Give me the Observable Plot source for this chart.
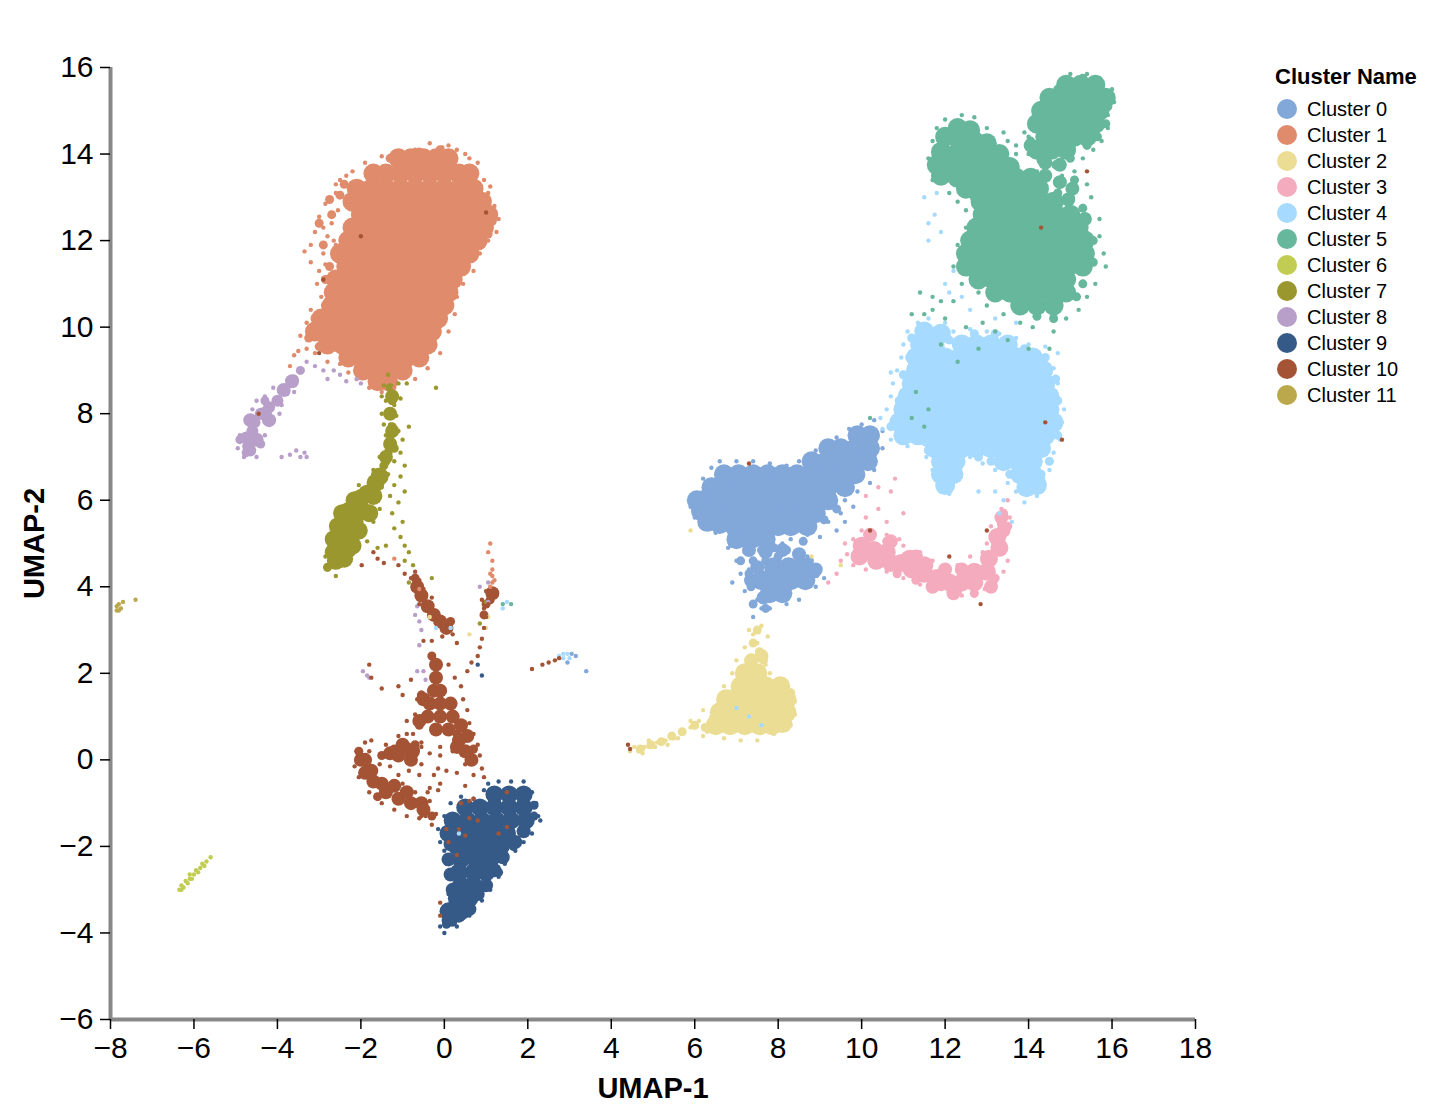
<!DOCTYPE html>
<html><head><meta charset="utf-8">
<script src="https://cdn.jsdelivr.net/npm/d3@7"></script>
<script src="https://cdn.jsdelivr.net/npm/@observablehq/plot@0.6"></script>
<style>
html,body{margin:0;background:#fff;font-family:"Liberation Sans",Arial,sans-serif}
#wrap{position:relative;width:1442px;height:1116px}
#legend{position:absolute;left:1275px;top:64px;color:#000}
#legend .t{font-weight:700;font-size:22px;line-height:26px;margin-bottom:6px}
#legend .r{display:flex;align-items:center;height:26px;font-size:20px}
#legend .s{width:20px;height:20px;border-radius:50%;margin:0 10px 0 2px}
svg [aria-label="x-axis label"],svg [aria-label="y-axis label"]{font-weight:700;font-size:29px}
</style></head><body><div id="wrap"><div id="chart"></div><div id="legend"></div></div>
<script>
const clusterNames=["Cluster 0","Cluster 1","Cluster 2","Cluster 3","Cluster 4","Cluster 5","Cluster 6","Cluster 7","Cluster 8","Cluster 9","Cluster 10","Cluster 11"];
const clusterColors=["#82a7d9","#e08b6b","#ebdd94","#f4abbd","#a6daff","#66b79b","#c1cc53","#9a972e","#b89fc9","#355a88","#a45435","#bca84c"];
const xTicks=[-8,-6,-4,-2,0,2,4,6,8,10,12,14,16,18];
const yTicks=[-6,-4,-2,0,2,4,6,8,10,12,14,16];

// dense regions: x,y pairs
const dense1=[-1.1,13.9,-.8,13.9,-.5,13.9,-.2,13.9,.1,13.9,-1.7,13.55,-1.4,13.55,-1.05,13.55,-.7,13.55,-.35,13.55,0,13.55,.35,13.55,.6,13.55,-2.1,13.2,-1.75,13.2,-1.4,13.2,-1.05,13.2,-.7,13.2,-.35,13.2,0,13.2,.35,13.2,.7,13.2,-2.2,12.9,-1.85,12.9,-1.5,12.9,-1.15,12.9,-.8,12.9,-.45,12.9,-.1,12.9,.25,12.9,.6,12.9,.9,12.9,-2,12.6,-1.65,12.6,-1.3,12.6,-.95,12.6,-.6,12.6,-.25,12.6,.1,12.6,.45,12.6,.8,12.6,1.05,12.6,-2.2,12.3,-1.85,12.3,-1.5,12.3,-1.15,12.3,-.8,12.3,-.45,12.3,-.1,12.3,.25,12.3,.6,12.3,.95,12.3,-2.3,12,-1.95,12,-1.6,12,-1.25,12,-.9,12,-.55,12,-.2,12,.15,12,.5,12,.8,12,-2.5,11.7,-2.15,11.7,-1.8,11.7,-1.45,11.7,-1.1,11.7,-.75,11.7,-.4,11.7,-.05,11.7,.3,11.7,.6,11.7,-2.35,11.4,-2,11.4,-1.65,11.4,-1.3,11.4,-.95,11.4,-.6,11.4,-.25,11.4,.1,11.4,.4,11.4,-2.6,11.1,-2.25,11.1,-1.9,11.1,-1.55,11.1,-1.2,11.1,-.85,11.1,-.5,11.1,-.15,11.1,.2,11.1,-2.65,10.8,-2.3,10.8,-1.95,10.8,-1.6,10.8,-1.25,10.8,-.9,10.8,-.55,10.8,-.2,10.8,.1,10.8,-2.7,10.5,-2.35,10.5,-2,10.5,-1.65,10.5,-1.3,10.5,-.95,10.5,-.6,10.5,-.25,10.5,0,10.5,-2.95,10.2,-2.6,10.2,-2.25,10.2,-1.9,10.2,-1.55,10.2,-1.2,10.2,-.85,10.2,-.5,10.2,-.15,10.2,-3.1,9.9,-2.75,9.9,-2.4,9.9,-2.05,9.9,-1.7,9.9,-1.35,9.9,-1,9.9,-.65,9.9,-.3,9.9,-2.8,9.6,-2.45,9.6,-2.1,9.6,-1.75,9.6,-1.4,9.6,-1.05,9.6,-.7,9.6,-.4,9.6,-2.3,9.3,-1.95,9.3,-1.6,9.3,-1.25,9.3,-.9,9.3,-.6,9.3,-1.95,9,-1.6,9,-1.3,9,-1,9,-1.6,8.75,-1.35,8.75];
const dense5=[14.9,15.6,15.25,15.6,15.6,15.6,14.5,15.3,14.85,15.3,15.2,15.3,15.55,15.3,15.85,15.3,14.3,15,14.65,15,15,15,15.35,15,15.7,15,14.2,14.7,14.55,14.7,14.9,14.7,15.25,14.7,15.6,14.7,14.4,14.4,14.75,14.4,15.1,14.4,15.4,14.4,14.2,14.1,14.55,14.1,14.9,14.1,12.3,14.6,12.6,14.55,12,14.4,12.35,14.3,12.7,14.3,13,14.25,11.9,14.05,12.25,14,12.6,14,12.95,14,13.3,14,11.8,13.75,12.15,13.7,12.5,13.7,12.85,13.7,13.2,13.7,13.55,13.7,11.9,13.5,12.3,13.45,12.65,13.45,13,13.45,13.35,13.45,13.7,13.45,14.05,13.45,12.5,13.2,12.85,13.2,13.2,13.2,13.55,13.2,13.9,13.2,14.25,13.2,12.85,12.9,13.2,12.9,13.55,12.9,13.9,12.9,14.25,12.9,14.6,12.9,12.9,12.6,13.25,12.6,13.6,12.6,13.95,12.6,14.3,12.6,14.65,12.6,15,12.6,12.75,12.3,13.1,12.3,13.45,12.3,13.8,12.3,14.15,12.3,14.5,12.3,14.85,12.3,15.2,12.3,12.6,12,12.95,12,13.3,12,13.65,12,14,12,14.35,12,14.7,12,15.05,12,15.35,12,12.5,11.7,12.85,11.7,13.2,11.7,13.55,11.7,13.9,11.7,14.25,11.7,14.6,11.7,14.95,11.7,15.35,11.7,12.5,11.4,12.85,11.4,13.2,11.4,13.55,11.4,13.9,11.4,14.25,11.4,14.6,11.4,14.95,11.4,15.3,11.4,12.8,11.1,13.15,11.1,13.5,11.1,13.85,11.1,14.2,11.1,14.55,11.1,14.9,11.1,13.2,10.8,13.55,10.8,13.9,10.8,14.25,10.8,14.6,10.8,14.9,10.8,13.8,10.5,14.2,10.5,14.6,10.5];
const dense4=[11.5,9.9,11.9,9.85,11.4,9.6,11.75,9.55,12.4,9.6,12.75,9.6,13.1,9.6,13.5,9.6,11.3,9.3,11.65,9.3,12,9.3,12.35,9.3,12.7,9.3,13.05,9.3,13.4,9.3,13.75,9.3,14.1,9.3,11.3,9,11.65,9,12,9,12.35,9,12.7,9,13.05,9,13.4,9,13.75,9,14.1,9,14.35,9,11.2,8.7,11.55,8.7,11.9,8.7,12.25,8.7,12.6,8.7,12.95,8.7,13.3,8.7,13.65,8.7,14,8.7,14.4,8.7,11.1,8.4,11.45,8.4,11.8,8.4,12.15,8.4,12.5,8.4,12.85,8.4,13.2,8.4,13.55,8.4,13.9,8.4,14.25,8.4,14.5,8.4,11,8.1,11.35,8.1,11.7,8.1,12.05,8.1,12.4,8.1,12.75,8.1,13.1,8.1,13.45,8.1,13.8,8.1,14.15,8.1,14.5,8.1,10.9,7.8,11.25,7.8,11.6,7.8,11.95,7.8,12.3,7.8,12.65,7.8,13,7.8,13.35,7.8,13.7,7.8,14.05,7.8,14.4,7.8,14.6,7.8,11,7.5,11.35,7.5,11.7,7.5,12.05,7.5,12.4,7.5,12.75,7.5,13.1,7.5,13.45,7.5,13.8,7.5,14.15,7.5,14.4,7.5,11.75,7.2,12.05,7.2,12.4,7.2,12.75,7.2,13.1,7.2,13.45,7.2,13.8,7.2,14.15,7.2,14.3,7.2,11.9,6.9,12.25,6.9,13.4,6.9,13.75,6.9,14.1,6.9,11.9,6.6,12.2,6.6,13.8,6.6,14.1,6.6,12,6.35,13.95,6.3,14.2,6.35];
const dense0=[9.9,7.5,10.2,7.5,9.2,7.2,9.5,7.2,9.85,7.2,10.2,7.2,8.8,6.9,9.15,6.9,9.5,6.9,9.85,6.9,10.15,6.9,6.7,6.6,7.05,6.6,7.4,6.6,7.75,6.6,8.1,6.6,8.45,6.6,8.8,6.6,9.15,6.6,9.5,6.6,9.85,6.6,6.4,6.3,6.75,6.3,7.1,6.3,7.45,6.3,7.8,6.3,8.15,6.3,8.5,6.3,8.85,6.3,9.2,6.3,9.6,6.3,6.2,6,6.55,6,6.9,6,7.25,6,7.6,6,7.95,6,8.3,6,8.65,6,9,6,9.2,6,6.15,5.75,6.5,5.7,6.85,5.7,7.2,5.7,7.55,5.7,7.9,5.7,8.25,5.7,8.6,5.7,8.9,5.7,6.6,5.45,6.95,5.4,7.3,5.4,7.65,5.4,8,5.4,8.3,5.4,7,5.1,7.35,5.1,7.7,5.1,7.9,4.45,8.25,4.45,8.6,4.45,7.6,4.15,7.95,4.15,8.3,4.15,8.65,4.15,7.8,3.85,8.1,3.85,6.05,6,8.7,5.4,6.3,5.5];
const dense3=[10,4.95,10.3,4.85,10.6,4.8,9.95,4.7,10.35,4.6,10.7,4.55,10.95,4.55,11.2,4.4,11.5,4.3,11.8,4.2,12.1,4.1,12.4,4.1,12.7,4.1,11.5,4.5,11.15,4.65,12.7,4.35,13,4.35,13.05,4.65,13.3,4.9,13.25,5.15];
const dense2=[7.2,2,7.5,2,7.1,1.7,7.4,1.7,7.7,1.7,6.9,1.4,7.2,1.4,7.55,1.4,7.9,1.4,8.2,1.4,6.6,1.1,6.9,1.1,7.25,1.1,7.6,1.1,7.9,1.1,8.2,1.1,6.5,.8,6.85,.8,7.2,.8,7.55,.8,7.85,.8,8.05,1.7,8.1,.85,6.75,1.4];
const dense9=[1.2,-.8,1.55,-.8,1.9,-.8,.5,-1.1,.85,-1.1,1.2,-1.1,1.55,-1.1,1.9,-1.1,.2,-1.4,.55,-1.4,.9,-1.4,1.25,-1.4,1.6,-1.4,1.95,-1.4,.1,-1.7,.45,-1.7,.8,-1.7,1.15,-1.7,1.5,-1.7,.3,-2,.65,-2,1,-2,1.35,-2,.4,-2.3,.75,-2.3,1.1,-2.3,.35,-2.6,.7,-2.6,1,-2.6,.4,-2.9,.7,-2.9,.3,-3.2,.6,-3.2,.1,-3.5,.4,-3.5];
const dense7=[-2.6,4.6,-2.5,4.9,-2.65,5.1,-2.3,5.2,-2.4,5.45,-2.15,5.5,-2.3,5.75,-2,5.8,-2,6.05,-1.85,6.15,-1.65,6.4,-2.65,4.8,-2.4,4.65,-2.2,4.95,-2.05,5.3,-2.55,5.4,-2.45,5.7,-1.8,5.7,-2.15,6,-1.7,6.1,-1.55,6.55];
const dense10=[-.2,2.2,-.2,1.9,-.25,1.6,-.1,1.6,-.35,1.3,-.1,1.3,.15,1.3,-.4,1,-.1,1,.2,1,.4,.8,-.2,.7,.1,.7,.35,.45,.5,.2,.65,0,-2,0,-1.9,-.3,-1.7,-.5,-1.4,-.75,-1.1,-.9,-.8,-1,-.5,-1.15,-.9,.25,-1.1,.1,-.8,0,-.55,3.8,-.4,3.55,-.25,3.35,-.1,3.2,.05,3.05,-.65,4,1.15,3.85];
const dense8=[-4.7,7.25,-4.75,7.45,-4.6,7.6,-4.55,7.8,-4.4,8,-4.2,8.15,-4,8.3,-4.65,7.15];

// gaps between the dense regions
const fill0=[7.3,4.85,7.7,4.8,8.1,4.85,7.5,4.45,8.5,4.75,8.9,4.4,7.35,4.15,7.65,3.75];
const fill2=[7.35,2.3,7.6,2.4];
const fill3=[10.2,5.2,10.7,5.05,11.3,4.7,12,4.4,12.4,4.4,13.1,4,12.2,3.85,11.7,4,13.35,5.6,13.4,5.3];
const fill5=[14.05,14.2,14.4,13.8,14.75,13.75,14.4,13.5,14.75,13.35,15.05,13.2,14.95,12.95,15.35,12.5];
const fill7=[-1.3,8,-1.25,7.6,-1.3,7.3,-1.4,7,-1.25,8.4];
const fill8=[-4.5,7.4,-4.65,7.85,-4.3,8,-4.2,7.85,-3.85,8.55,-3.65,8.75];
const fill9=[1.7,-1.9,1.9,-1.65,1.4,-2.25,1.2,-2.55,1,-2.9,.8,-3.1,.6,-3.45,.35,-3.6,.1,-3.7,.15,-1.95,.1,-2.3,.15,-2.65,.2,-3];
const fill10=[-.5,1.4,-.6,.9,.3,.3,.55,.55,-1.5,-.55,-1.2,-.6,-.9,-.75,-1.9,0,-1.75,-.25,-1.3,.15,-1,.35,-.75,.2,-.55,-1];

// thinner parts of the clusters
const mid0=[7.3,4.9,7.6,4.85,7.9,4.9,8.2,4.85,7.1,4.6,7.4,4.6,7.7,4.6,8,4.7,7.3,4.3,7.35,4,7.6,3.75,8.9,4.3,8.75,4.6,8.5,4.75,7.7,3.5,7.4,3.6,6.9,5,8.6,5.05,9.1,5.55,9.4,5.8];
const mid1=[-3,12.4,-2.7,12.6,-2.75,12.95,-2.9,11.9,-2.75,11.4,-2.85,11.1,-2.85,10.5,-3.1,10.2,-3.25,9.75,-3,9.55,-.6,14.05,-.1,14.1,-1.3,13.9,-2.4,13.3,-2.5,13.05,1.05,12.15,1.15,12.45];
const mid2=[7.5,3,7.4,2.7,7.55,2.5,7.3,2.3,7.65,2.3,6,.8,5.7,.65,5.45,.55,5.2,.42,4.95,.35,4.7,.25,6.25,.75,8.3,1.55];
const mid3=[10.2,5.15,10.6,5.05,13.35,5.45,13.4,5.7,13.5,5.4,12.3,3.9,12.7,3.85,11.9,4,11.3,4.15,10.85,4.3,13.2,4.2];
const mid4=[11.2,9.75,12.1,9.7,13.9,9.5,14.4,9.3,14.65,8.8,14.7,8.3,14.7,7.5,14.5,6.9,14.3,6.6,11.6,7.15,10.7,7.7,10.9,8.3,11,8.9,11.15,9.3,12.8,7,13.1,6.9,13.55,6.6,12.7,9.85,13.2,9.85];
const mid5=[14.05,14.3,14.3,13.85,14.65,13.75,15,13.9,14.4,13.55,14.75,13.35,15.1,13.4,14.7,13.1,15,13,15.3,12.75,15.55,12,15.55,11.5,15.3,11,15.15,10.7,12.7,13,15.3,15.75,15.6,15.65,14.7,15.5,15.9,15.1,15.85,14.7,15.65,14.4,15.4,14.2,14.2,10.25,14.6,10.2];
const mid7=[-1.3,8.6,-1.25,8.3,-1.25,8,-1.25,7.7,-1.3,7.4,-1.35,7.1,-1.45,6.8,-1.2,7.2,-2.8,4.45,-1.4,6.9];
const mid8=[-4.9,7.4,-4.4,7.3,-4.3,8.3,-3.8,8.5,-3.6,8.8,-3.45,9,-4.75,7.1];
const mid10=[-.3,2.4,-.55,1.5,-.6,.8,.3,.6,.55,.55,.7,.25,-1.6,-.85,-.3,-1.3,-1.2,.25,-1.5,.1,-2.05,.2,-.7,.35,.15,3.2,-.7,4.2,1,3.6,1.1,3.7,.95,3.35];
const mid9=[.05,-3.8,.2,-3.75,.3,-3.55,2.15,-1.05,2.15,-1.3,1.65,-2,1.3,-2.6];

// individual points around and between the dense regions
const sparse0=[7,6.9,6.6,6.9,7.4,6.9,7.8,6.85,8.2,6.8,8.5,6.9,8.9,7.15,9.1,7.35,9.4,7.45,9.7,7.65,10,7.75,10.3,7.85,10.5,7.6,10.5,7.2,10.3,6.7,10,6.5,9.9,6.2,9.6,6,9.5,5.7,9.2,5.5,9.4,5.3,9,5.15,8.7,5.2,8.5,5.3,8.3,5.1,8.1,5,8,4.8,7.7,4.8,7.4,4.9,7.2,4.8,7,4.6,7.1,4.3,6.9,4.1,7.3,4.4,7.4,4,7.2,3.9,7.5,3.7,7.6,3.5,7.4,3.3,7.8,3.5,8.2,3.6,8.5,3.7,8.9,4,9.1,4.2,8.9,4.5,8.7,4.7,8.4,4.8,5.9,5.85,6,6.15,6.2,6.5,6.4,6.75,6,5.6,6.3,5.4,6.5,5.25,6.8,4.9,9.3,6.85,9.1,5.9,9.6,5.5,10.2,6.4,9.8,5.85,10,6.8,3.4,2.05,3.15,2.4,3.05,2.45,2.95,2.25];
const sparse1=[.1,14.2,-.35,14.25,-.7,14.1,-1.2,14.05,-1.5,13.95,-1.9,13.8,-2.2,13.6,-2.5,13.4,-2.6,13.1,-2.85,12.85,-3,12.55,-2.7,12.4,-3.1,12.2,-2.8,12.1,-3.2,11.9,-3.35,11.75,-2.9,11.7,-3.2,11.5,-3,11.3,-3.05,11,-2.95,10.7,-3.2,10.4,-3.3,10.1,-3.45,9.8,-3.3,9.5,-3.5,9.45,-3.1,9.4,-2.8,9.2,-2.5,9.15,-2.3,8.95,-2.1,8.8,-1.8,8.6,-1.5,8.5,-1.2,8.6,-.7,8.8,-.4,9.05,-.1,9.4,.1,9.9,.25,10.3,.3,10.7,.45,11,.7,11.3,.85,11.7,1.05,12,1.25,12.2,1.3,12.5,1.2,12.8,1.05,13.1,.95,13.4,.8,13.8,.5,14,.3,14.1,-2.6,11.9,-2.9,12.3,-2.55,12.7,-2.65,12,-2.85,11.45,-3.05,10.2,-3.6,9.35,-3.7,9.1,-2.6,13.3,-2.35,13.5,-.05,14.15,.6,13.9,1.1,13.25,1.1,5,1.05,4.8,1.15,4.6,1.15,4.4,1.15,4.25,1.15,4.1,1.1,4.3,1.2,4.15,1.1,4,-1.2,4.65,-.6,3.95];
const sparse2=[7.6,3.1,7.4,2.9,7.3,3,7.75,2.85,7.5,2.7,7.2,2.6,7.6,2.5,7.4,2.4,7,2.3,7.7,2.2,7.8,2,6.9,2,6.7,1.7,6.6,1.4,6.2,1.15,8.1,1.8,8.3,1.6,8.4,1.35,8.4,1.05,8.3,.8,8.1,.75,7.9,.6,7.5,.45,7.1,.45,6.7,.5,6.2,.55,6,.75,5.9,.75,5.7,.6,5.5,.5,5.3,.45,5.1,.4,4.9,.3,4.8,.3,4.65,.2,4.55,.3,4.75,.15,5.05,.3,5.35,.35,5.6,.5,6.3,.65,6.1,.9,6.4,1,5.9,.9,4.9,.45,4.45,.2,-.35,3.3,.6,2.9,1,3.05,1.05,3.3,5.9,5.3,8.8,4.7,9.5,4.5];
const sparse3=[9.6,5,9.65,4.75,9.8,5.1,10,5.3,10.3,5.25,10.6,5.2,10.9,5.1,10.1,5.6,10.4,5.8,10.7,6.2,10.4,6.3,10.6,5.5,11,5.7,11,4.95,11.4,4.8,11.7,4.6,12,4.45,12.3,4.5,12.6,4.7,12.9,4.8,13,5,13.1,5.4,13.3,5.5,13.55,5.6,13.5,5.3,13.5,6,13.35,5.8,13.5,4.6,13.4,4.35,13.2,4.1,12.95,3.95,12.7,3.8,12.4,3.8,12.1,3.85,11.7,3.9,11.4,4.05,11,4.2,10.6,4.35,10.1,4.4,9.8,4.5,9.5,4.6,9.4,4.3,9.2,4.1,10.8,6.5,10.1,6.1];
const sparse4=[11.1,9.9,11.35,10.1,11.6,10.2,12,10.1,12.2,9.9,12.6,9.95,13,9.9,13.3,9.85,13.7,9.75,14,9.6,14.4,9.55,14.7,9.4,14.4,9.2,14.6,9.05,14.7,8.7,14.65,8.3,14.85,8.1,14.8,7.8,14.75,7.4,14.6,7.1,14.5,6.7,14.35,6.5,14.2,6.1,13.9,5.95,13.7,6.2,13.5,6.4,13.2,6.7,12.9,6.85,12.6,7,12.35,6.6,12.1,6.15,11.85,6.3,11.7,6.7,11.55,7,11.5,7.3,11.1,7.25,10.7,7.4,10.5,7.65,10.45,7.9,10.6,8.1,10.7,8.4,10.75,8.7,10.85,9,10.95,9.3,10.7,8.95,11,9.6,12,11,12.1,10.8,11.9,12.2,11.75,12.6,11.6,12.4,11.8,13.1,11.6,12,12.2,11.3,12.4,10.7,12.6,10.4,13.2,10.2,13.7,10.1,11.5,13,13.2,6.2,13.4,6,13.6,5.5,13.3,5.7,12.8,6.2,2.75,2.4,2.85,2.45,2.95,2.45,3,2.35,2.85,2.35,1.4,3.5,1.5,3.65,7.3,1,7,1.2,7.6,.8,-.2,3.05,.15,3.05,.35,-1.7];
const sparse5=[15,15.85,15.4,15.85,15.7,15.75,16,15.5,16.05,15.2,15.9,14.9,15.9,14.6,15.75,14.3,15.55,14.1,15.3,13.9,15.1,13.6,15.4,13.3,15.5,13,15.3,12.8,15.7,12.5,15.7,12.1,15.8,11.7,15.85,11.4,15.6,11,15.4,10.7,15.2,10.4,14.9,10.2,14.6,9.9,14.1,10,13.8,10.1,13.4,10.3,13,10.5,12.8,10.8,12.4,11,12.2,11.4,12.3,11.9,12.5,12.3,12.5,12.7,12.3,12.9,12.1,13.1,11.7,13.4,11.6,13.9,11.7,14.3,11.8,14.6,12,14.8,12.4,14.9,12.7,14.85,13,14.6,13.4,14.5,13.5,14.3,13.7,14,14,14.4,14.2,14.8,14.5,15.2,14.7,15.5,14.2,13.6,14.4,13.7,14.8,13.5,15,13.2,14,14,13.7,14.2,13.9,14.5,11.2,10.3,11.5,10.3,11.7,10.4,11.4,10.8,11.7,10.7,11.9,10.6,12.2,10.6,12,10.2,12.5,10,12.9,10.1,13.2,9.9,13.5,9.7,14,9.5,14.5,9.5,11.9,9.6,12.3,9.2,12.8,9.5,11.3,8.5,11.6,8.1,11.2,7.9,11.5,7.7,10.2,7.9,1.4,3.6,1.6,3.6];
const sparse6=[-6.35,-3,-6.3,-2.9,-6.2,-2.8,-6.1,-2.75,-6,-2.65,-5.95,-2.55,-5.85,-2.5,-5.8,-2.4,-5.7,-2.35,-5.6,-2.25,-6.25,-2.95,-6.15,-2.85,-6.05,-2.75,-5.9,-2.6,-6.3,-3,-6.1,-2.65,-5.75,-2.45];
const sparse7=[-1.35,8.9,-1.1,8.7,-1.3,8.5,-1.4,8.3,-1.2,8.2,-1.35,8,-1.15,7.95,-1.3,7.75,-1.1,7.6,-1.4,7.5,-1.2,7.35,-1,7.4,-1.3,7.1,-1.05,7.1,-1.2,6.9,-1.4,6.85,-.95,6.8,-1.35,6.6,-1.05,6.55,-1.2,6.35,-.95,6.2,-1.3,6.1,-1.1,5.95,-1.25,5.7,-1,5.5,-1.2,5.35,-1.5,6.3,-1.75,6,-1.55,5.8,-1.7,5.5,-1.95,5.3,-1.85,5.05,-2.1,4.9,-2.2,4.75,-2.35,4.55,-2.6,4.25,-2.8,4.4,-2.85,4.7,-2.75,5,-2.5,5.4,-2.55,5.7,-2.2,6.1,-2.05,6.35,-1.7,6.7,-1.55,7,-.9,8.7,-1.45,8.65,-1.05,8.35,-.85,7.7,-1.5,8,-1.45,7.75,-1.5,8.4,-1.4,4.95,-1.05,5.15,-.95,4.95,-.85,4.8,-.95,4.6,-1.6,4.9,-.75,4.5,-.85,4.1,1,3.65,.85,3.15,-.2,8.6,-.3,4.2];
const sparse8=[-3.8,8.5,-3.6,8.8,-3.4,9,-3.3,9.2,-3.1,9.1,-3.6,8.5,-3.9,8.2,-4.1,8.6,-4.3,8.4,-4.5,8.3,-4.6,8.1,-4.75,7.85,-4.9,7.5,-4.95,7.2,-4.8,7,-4.5,7,-4.4,7.3,-4.3,7.5,-4.3,7.8,-3.95,8,-2.9,9,-2.8,8.8,-2.65,9,-2.5,8.9,-2.35,8.75,-2.1,8.8,-2,8.7,-3.9,7,-3.7,7.05,-3.55,7.15,-3.45,7,-3.35,7.1,-3.3,7,-.65,3.55,-.7,3.35,-.6,3.2,-.55,3,-.6,2.65,-1.95,2.05,-1.85,1.95,-1.8,1.9,-.5,2.05,-.45,1.85,-.65,2.05,.85,4,1.05,4.1,1.05,3.65];
const sparse9=[1.3,-.5,1.6,-.5,1.9,-.5,2.1,-.75,2.2,-1,2.25,-1.3,2.3,-1.4,2.1,-1.7,1.9,-1.9,1.7,-2.1,1.45,-2.4,1.3,-2.7,1.1,-3,.9,-3.25,.6,-3.6,.3,-3.85,0,-4,-.1,-3.85,-.05,-3.5,.1,-3.1,.1,-2.7,.05,-2.4,0,-2.1,-.1,-1.9,-.15,-1.6,0,-1.3,.15,-1,.4,-.85,.7,-.9,.95,-.7,1.05,-.55,.8,2.2,.9,1.95];
const sparse10=[-1.7,4.8,-1.6,4.65,-1.45,4.55,-1.98,4.5,-1.1,4.5,-.95,4.3,-.8,4.2,-.7,4.35,-.6,4.15,-.5,3.95,-.75,3.95,-.3,3.75,-.6,3.6,.15,3.2,.2,2.9,-.05,2.85,.3,2.7,-.5,2.75,-.3,2.75,.9,3.7,1,3.9,1.25,3.8,1.05,3.6,.95,3.5,1,3.3,.95,3.05,.9,2.8,.85,2.6,.8,2.4,.65,2.25,.55,2.05,2.1,2.1,2.35,2.2,2.5,2.25,2.65,2.3,2.75,2.35,-1.8,2.2,-1.75,1.9,-1.5,1.65,-1.1,1.7,-1,1.5,-.8,1.85,-.65,1.4,-.7,1.05,-.9,.9,-.75,.6,-.55,1.55,-.55,.4,.1,2.2,.25,1.9,.4,1.7,.45,1.4,.55,1.15,.6,.85,.7,.6,.8,.35,.85,.1,.9,-.2,.7,-.35,.5,-.1,.3,-.3,.2,.2,-.1,.3,-.35,.15,-.55,-.1,-.25,-.35,-.1,-.55,.05,-.25,.5,-.6,-.9,.6,-1.1,.55,-1.4,.35,-1.75,.45,-1.9,.4,-1.55,-.1,-1.3,-.15,-1.1,-.35,-.6,-.35,-.35,-.65,-1.8,.2,-2.1,.2,-2.15,-.15,-2.05,-.4,-1.8,-.75,-1.5,-1,-1.2,-1.15,-.9,-1.3,-.6,-1.35,-.3,-1.5,-.7,-.75,-1,-.55,-.35,-.95,-.15,-.7,-.2,-1.25,-.1,-3.6,-.1,-3.3,.3,-2.2,1.3,-1.7,.8,-1.4,.1,-1.9,.95,-.4,.6,-.95,1.5,-.75,7.3,6.85,13,5.3,14.4,7.8,14.8,7.4,10.2,5.3,12.1,4.7,12.85,3.6,1,12.65,-2,12.1,-2.9,11.1,-3,9.4,-4.45,8,4.4,.35,4.45,.25,14.3,12.3,15.4,13.6,1.5,-1.55,-.15,-.2,-.1,.1,-.85,-.25,-.55,.3,-.45,-1.3,.4,-1,.05,-1.6,.6,-1.35,-.4,-.75,-.55,-1.05,.7,-.9,-.6,-.95,.35,-1.6,.5,-1.75,-.55,-1.3,-.7];
const sparse11=[-7.85,3.55,-7.8,3.6,-7.75,3.5,-7.8,3.45,-7.7,3.65,-7.4,3.7,-7.85,3.45];

const fillSets=[[0,fill0],[2,fill2],[3,fill3],[5,fill5],[7,fill7],[8,fill8],[9,fill9],[10,fill10]];
const midSets=[[0,mid0],[1,mid1],[2,mid2],[3,mid3],[4,mid4],[5,mid5],[7,mid7],[8,mid8],[9,mid9],[10,mid10]];
const denseSets=[[0,dense0],[1,dense1],[2,dense2],[3,dense3],[4,dense4],[5,dense5],[7,dense7],[9,dense9],[10,dense10],[8,dense8]];
const sparseSets=[sparse0,sparse1,sparse2,sparse3,sparse4,sparse5,sparse6,sparse7,sparse8,sparse9,sparse10,sparse11];
const denseRadius={0:10,1:10,2:10,3:9,4:10,5:10,7:9,9:9,10:7,8:6};
const fillRadius=7,midRadius=4.5,sparseRadius=2.2;

const pairs=(a,c)=>{const o=[];for(let i=0;i<a.length;i+=2)o.push({x:a[i],y:a[i+1],cluster:clusterNames[c]});return o};
const marks=[];
for(const [c,a] of denseSets) marks.push(Plot.dot(pairs(a,c),{x:"x",y:"y",fill:"cluster",r:denseRadius[c]}));
for(const [c,a] of fillSets) marks.push(Plot.dot(pairs(a,c),{x:"x",y:"y",fill:"cluster",r:fillRadius}));
for(const [c,a] of midSets) marks.push(Plot.dot(pairs(a,c),{x:"x",y:"y",fill:"cluster",r:midRadius}));
sparseSets.forEach((a,c)=>marks.push(Plot.dot(pairs(a,c),{x:"x",y:"y",fill:"cluster",r:sparseRadius})));

const chart=Plot.plot({
  width:1442,height:1116,marginLeft:110,marginRight:247,marginTop:67,marginBottom:97,
  style:{fontFamily:'"Liberation Sans",Arial,sans-serif',background:"#fff",color:"#000"},
  x:{domain:[-8,18]},y:{domain:[-6,16]},color:{domain:clusterNames,range:clusterColors},
  marks:[
    ...marks,
    Plot.ruleX([-8],{stroke:"#888",strokeWidth:4,y1:-6,y2:16}),
    Plot.ruleY([-6],{stroke:"#888",strokeWidth:4,x1:-8,x2:18}),
    Plot.axisX({ticks:xTicks,tickSize:10,tickPadding:7,fontSize:30,stroke:"#000",strokeWidth:1.5,strokeOpacity:1,label:"UMAP-1",labelAnchor:"center",labelArrow:"none",labelOffset:78}),
    Plot.axisY({ticks:yTicks,tickSize:10,tickPadding:7,fontSize:30,stroke:"#000",strokeWidth:1.5,strokeOpacity:1,label:"UMAP-2",labelAnchor:"center",labelArrow:"none",labelOffset:87})
  ]
});
document.getElementById("chart").appendChild(chart);
const lg=document.getElementById("legend");
lg.innerHTML='<div class="t">Cluster Name</div>'+clusterNames.map((n,i)=>`<div class="r"><span class="s" style="background:${clusterColors[i]}"></span>${n}</div>`).join("");
</script></body></html>
